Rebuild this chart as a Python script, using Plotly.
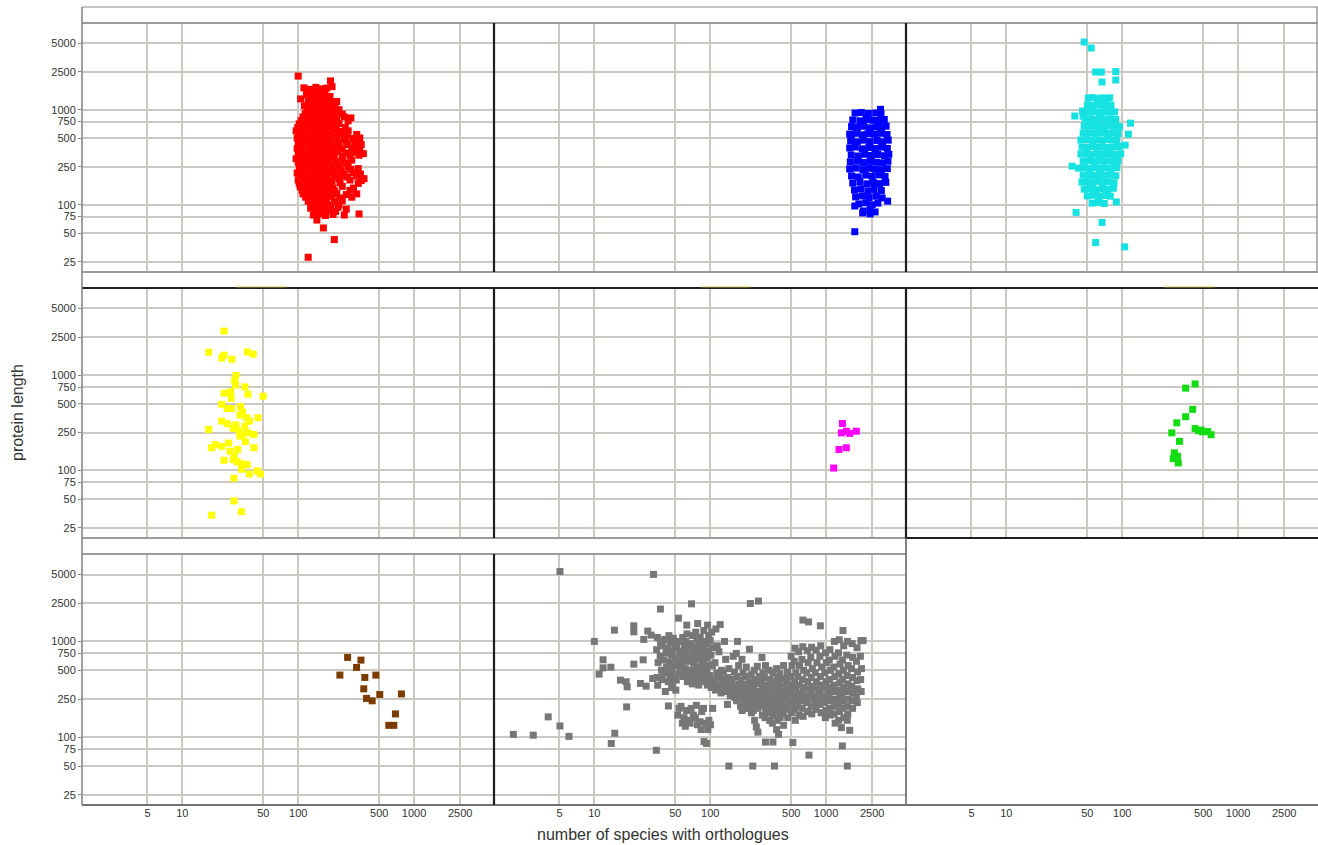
import plotly.graph_objects as go

# ---------------- data ----------------
x_ticks = [5, 10, 50, 100, 500, 1000, 2500]
y_ticks = [25, 50, 75, 100, 250, 500, 750, 1000, 2500, 5000]
x_title = "number of species with orthologues"
y_title = "protein length"

red_pts = [
    (100, 2260), (190, 2010), (112, 1700), (125, 1640), (142, 1720), (158, 1660), (176, 1690), (196, 1750),
    (118, 1560), (133, 1580), (150, 1540), (170, 1570),
    (118, 1430), (131, 1400), (150, 1460), (168, 1420), (188, 1380),
    (128, 1320), (145, 1290), (162, 1330), (182, 1300),
    (105, 1300), (122, 1210), (137, 1180), (155, 1230), (172, 1200), (200, 1190), (215, 1220),
    (113, 1100), (128, 1090), (145, 1110), (163, 1080), (185, 1100), (208, 1090),
    (120, 990), (135, 1010), (150, 970), (175, 1000), (195, 980), (225, 1000),
    (115, 910), (128, 920), (145, 900), (165, 915), (188, 905), (212, 920), (240, 900),
    (110, 840), (124, 830), (140, 850), (158, 820), (180, 845), (205, 830), (250, 840), (285, 820),
    (106, 770), (120, 760), (137, 780), (150, 765), (168, 775), (190, 760), (215, 770), (270, 765),
    (102, 710), (118, 700), (135, 720), (155, 690), (172, 710), (196, 700), (225, 715),
    (99, 650), (113, 655), (130, 645), (148, 660), (166, 650), (188, 655), (213, 645), (255, 650),
    (96, 600), (108, 590), (125, 610), (142, 580), (160, 600), (180, 595), (205, 610), (240, 590), (270, 600),
    (102, 550), (118, 545), (135, 555), (153, 548), (172, 552), (195, 545), (228, 555), (265, 548), (320, 550),
    (98, 505), (112, 500), (128, 510), (145, 495), (165, 505), (185, 500), (215, 510), (250, 495), (300, 500), (340, 505),
    (100, 460), (115, 465), (132, 455), (150, 462), (168, 458), (190, 465), (220, 455), (260, 462), (310, 458),
    (104, 425), (118, 430), (135, 420), (152, 425), (172, 430), (196, 420), (225, 425), (270, 430), (330, 420), (350, 430),
    (98, 390), (108, 385), (124, 395), (140, 388), (158, 392), (178, 386), (205, 394), (240, 388), (290, 392), (340, 388),
    (100, 360), (112, 355), (130, 365), (148, 350), (165, 360), (190, 355), (220, 362), (260, 350), (310, 355), (365, 345),
    (105, 330), (118, 335), (136, 325), (155, 332), (175, 328), (205, 334), (240, 326), (280, 330), (335, 332),
    (96, 305), (110, 300), (122, 310), (140, 295), (158, 305), (178, 300), (200, 308), (240, 300), (290, 295),
    (100, 280), (112, 278), (128, 284), (145, 276), (165, 282), (185, 278), (212, 284), (255, 276),
    (102, 255), (115, 258), (132, 250), (150, 255), (170, 260), (195, 250), (225, 255), (270, 252),
    (104, 235), (118, 238), (136, 232), (155, 240), (175, 234), (200, 238), (235, 232), (285, 236), (330, 240),
    (98, 216), (108, 220), (125, 212), (145, 218), (162, 214), (182, 220), (210, 215), (250, 212), (300, 218), (345, 210),
    (104, 200), (118, 198), (137, 202), (155, 196), (178, 203), (205, 198), (235, 202), (265, 196), (320, 200),
    (100, 182), (114, 185), (130, 180), (150, 178), (172, 184), (195, 180), (225, 186), (280, 182), (350, 180), (370, 188),
    (102, 168), (117, 165), (133, 170), (152, 166), (170, 168), (195, 165), (230, 170), (330, 168),
    (104, 154), (120, 150), (138, 156), (155, 152), (176, 155), (200, 150), (240, 156), (300, 150),
    (108, 142), (124, 140), (140, 144), (160, 141), (180, 143), (205, 140), (280, 142),
    (110, 130), (126, 128), (142, 132), (162, 130), (185, 127), (215, 131), (260, 128), (320, 130),
    (116, 120), (133, 118), (150, 121), (170, 119), (195, 122), (228, 118), (290, 120),
    (122, 109), (138, 110), (155, 107), (175, 111), (205, 108), (240, 110),
    (130, 100), (148, 99), (168, 102), (190, 100), (225, 99),
    (128, 92), (145, 90), (165, 93), (190, 91), (220, 94), (260, 90),
    (140, 85), (158, 84), (180, 86), (210, 85),
    (135, 78), (150, 80), (172, 77), (200, 79), (250, 78), (335, 80),
    (145, 69), (165, 57), (205, 43), (122, 28),
]

blue_pts = [
    (2950, 1010),
    (1780, 923), (2020, 935), (2320, 915), (2680, 925), (2980, 905),
    (1700, 780), (1960, 765), (2220, 790), (2520, 775), (2880, 770), (3180, 790),
    (1660, 665), (1860, 650), (2120, 670), (2400, 645), (2720, 660), (3020, 650), (3300, 672),
    (1600, 555), (1820, 565), (2060, 545), (2300, 560), (2620, 552), (2950, 565), (3360, 548),
    (1630, 470), (1860, 460), (2110, 478), (2400, 462), (2750, 475), (3080, 460), (3440, 478),
    (1600, 396), (1790, 405), (2050, 388), (2340, 400), (2660, 390), (3000, 404), (3380, 392),
    (1650, 334), (1900, 326), (2150, 340), (2460, 330), (2800, 338), (3200, 328), (3480, 340),
    (1620, 282), (1860, 288), (2100, 278), (2400, 286), (2720, 280), (3050, 276), (3420, 287),
    (1600, 238), (1820, 243), (2080, 234), (2350, 242), (2660, 236), (3000, 233), (3380, 240),
    (1660, 201), (1900, 196), (2200, 205), (2500, 199), (2860, 206), (3230, 198),
    (1700, 169), (1960, 174), (2250, 166), (2560, 171), (2900, 167), (3280, 172),
    (1760, 143), (2000, 147), (2300, 140), (2600, 145), (3000, 141),
    (1800, 121), (2060, 124), (2350, 119), (2700, 123), (3050, 118),
    (1920, 102), (2200, 105), (2500, 100), (2800, 104),
    (2100, 86), (2400, 89), (2650, 84),
    (1650, 540), (3400, 109), (1770, 97), (2070, 82), (2400, 80), (1770, 52),
]

cyan_pts = [
    (47, 5160), (54, 4460), (59, 2494), (66, 2490), (88, 2520), (67, 1958), (88, 2055),
    (39, 858), (45.5, 969), (46, 855), (37, 255), (118, 722), (113, 553), (106, 424),
    (89, 107), (40, 83), (67, 65), (59, 40), (105, 36),
    (51, 1328), (56, 1340), (61, 1310), (66, 1330), (72, 1320), (78, 1335),
    (50, 1120), (55, 1110), (62, 1130), (68, 1115), (75, 1125), (80, 1110),
    (52, 946), (58, 950), (64, 940), (70, 955), (78, 945), (86, 950),
    (48, 798), (53, 800), (60, 790), (66, 805), (73, 795), (80, 800), (88, 790),
    (47, 673), (52, 680), (58, 668), (64, 675), (70, 670), (77, 678), (86, 672), (95, 665),
    (46, 568), (51, 572), (57, 565), (63, 570), (69, 575), (76, 566), (84, 570), (92, 562),
    (44, 480), (49, 485), (55, 476), (61, 482), (67, 478), (74, 486), (82, 480), (90, 475),
    (45, 405), (50, 400), (56, 410), (62, 403), (68, 407), (75, 400), (83, 405), (94, 410),
    (44, 342), (49, 345), (54, 338), (60, 344), (66, 340), (73, 346), (80, 341), (88, 338), (97, 345),
    (46, 288), (51, 290), (57, 285), (63, 292), (69, 287), (76, 290), (84, 286), (92, 291),
    (42, 243), (47, 245), (53, 240), (59, 246), (65, 242), (72, 244), (80, 240), (90, 246),
    (46, 205), (52, 207), (58, 203), (64, 208), (71, 204), (79, 206), (88, 202),
    (45, 173), (50, 175), (56, 171), (62, 176), (68, 172), (76, 174), (85, 170),
    (47, 146), (53, 148), (60, 144), (67, 147), (75, 145), (84, 149),
    (50, 124), (56, 126), (63, 122), (71, 125), (79, 123),
    (55, 104), (62, 106), (70, 103),
]

yellow_pts = [
    (22.9, 2893), (16.9, 1738), (21.9, 1513), (22.9, 1616), (26.8, 1465), (36.3, 1750), (40.9, 1655),
    (29.0, 990), (28.3, 871), (28.8, 783), (34.7, 753), (22.9, 646), (26.1, 666), (26.4, 572),
    (36.8, 631), (49.9, 600), (21.9, 494), (24.4, 448), (26.6, 446), (31.8, 467), (31.4, 381),
    (35.9, 357), (45, 357), (21.9, 329), (24.6, 309), (16.9, 269), (27.5, 276), (34.7, 292),
    (31, 258), (37.1, 248), (31.4, 229), (41.5, 238), (41.5, 173), (17.9, 173), (19.2, 187),
    (21.9, 179), (25.1, 194), (25.8, 159), (30, 166), (22.9, 128), (27.5, 130), (29.8, 123),
    (33.1, 117), (36.3, 115), (32.5, 103), (44.3, 99), (47.3, 92), (37.8, 92), (27.9, 83),
    (27.9, 48), (32.3, 37), (17.9, 34), (33, 410), (29, 300), (33, 240), (28, 140), (35, 200), (38, 330),
]

magenta_pts = [
    (1384, 311), (1356, 248), (1497, 258), (1826, 258), (1600, 245), (1293, 166), (1497, 173), (1164, 106),
]

green_pts = [
    (353, 729), (426, 809), (406, 437), (353, 366), (296, 316), (268, 248), (312, 202), (282, 153),
    (276, 133), (305, 120), (300, 141), (426, 275), (455, 262), (492, 254), (547, 256), (585, 237), (480, 265),
]

brown_pts = [
    (267, 681), (348, 638), (319, 535), (229, 445), (376, 421), (468, 445), (368, 320), (389, 254),
    (435, 240), (506, 279), (778, 283), (691, 175), (605, 133), (669, 133),
]

gray_pts = [
    (5.05, 5380), (32.4, 5010), (37.2, 2177), (53.2, 1750), (62.8, 1480), (78, 1540), (21.9, 1455),
    (21.9, 1260), (14.9, 1312), (28.9, 1282), (30.9, 1164), (26.7, 1049), (10, 1000), (37.2, 990),
    (11.9, 643), (26.4, 643), (21.9, 579), (11.9, 530), (13.9, 538), (11, 455), (16.8, 394),
    (18.8, 379), (19.2, 336), (25, 364), (28, 341), (31.9, 410), (35.2, 349), (19, 207), (43.6, 212),
    (4, 163), (5.05, 131), (2, 107), (2.97, 105), (6.04, 102), (15, 110), (14, 86), (34.3, 73),
    (35, 1100), (37.5, 960), (34.5, 820), (37, 700), (35.5, 600), (38, 500), (35, 420),
    (40.5, 1050), (39, 900), (41.5, 760), (39.5, 640), (42, 540), (40, 470), (38.5, 400), (41, 300),
    (44, 1150), (45.5, 980), (43, 850), (46, 720), (44.5, 610), (42.5, 520), (45, 440), (43.5, 380), (46.5, 330),
    (48, 1080), (49.5, 930), (47, 790), (50, 670), (48.5, 560), (46.5, 480), (49, 410), (47.5, 360), (50.5, 310),
    (53, 1000), (51.5, 860), (54.5, 740), (52, 630), (55, 540), (53.5, 460), (51, 395), (54, 200), (52.5, 170),
    (58, 1100), (60, 920), (56.5, 790), (59, 680), (57, 580), (60.5, 500), (58.5, 430), (56, 210), (59.5, 160), (57.5, 140),
    (63, 1200), (61.5, 1000), (65, 860), (62, 730), (64.5, 620), (61, 520), (66, 440), (63.5, 380), (62.5, 190), (65.5, 150), (61, 130),
    (69, 2470), (70.5, 1150), (67.5, 950), (71, 800), (68, 690), (72, 590), (69.5, 500), (67, 420), (70, 360), (68.5, 200), (71.5, 170), (67, 140),
    (75, 1250), (77, 1050), (73.5, 880), (76.5, 750), (74, 640), (78, 540), (75.5, 460), (73, 390), (76, 215), (74.5, 160), (77.5, 135),
    (82, 1100), (80, 920), (84, 780), (81, 660), (85, 560), (80.5, 480), (83, 410), (79.5, 350), (84.5, 185), (81.5, 145), (83.5, 120),
    (88, 1300), (90, 1000), (86.5, 850), (89.5, 720), (87, 620), (91, 520), (86, 440), (89, 380), (87.5, 200), (90.5, 140), (88.5, 90),
    (95, 1480), (97, 1150), (93, 950), (96.5, 800), (94, 680), (98, 570), (93.5, 480), (96, 410), (94.5, 350), (97.5, 150), (95.5, 120), (93, 86),
    (103, 1250), (100, 1020), (106, 860), (101.5, 720), (104.5, 560), (99, 440), (107, 380), (102, 330), (105, 200), (100.5, 135),
    (112, 1350), (115, 900), (110, 600), (114, 470), (109, 400), (116, 350), (111, 310),
    (122, 1500), (119, 780), (125, 500), (121, 420), (127, 360), (118, 320), (124, 290),
    (133, 1000), (136, 650), (130, 480), (135, 400), (131, 340), (137, 300),
    (145, 520), (142, 420), (148, 360), (143, 310), (149, 270), (141, 220), (145, 50),
    (158, 700), (162, 480), (155, 400), (160, 340), (156, 300), (163, 260),
    (172, 1000), (168, 750), (176, 560), (170, 430), (178, 360), (167, 310), (174, 280), (169, 240),
    (188, 650), (192, 470), (184, 390), (190, 330), (186, 290), (194, 250), (183, 210), (189, 190),
    (205, 540), (200, 430), (210, 360), (203, 310), (212, 270), (199, 230), (207, 200),
    (222, 2490), (218, 830), (226, 450), (220, 380), (228, 330), (216, 280), (224, 240), (219, 210), (227, 180),
    (240, 500), (245, 400), (236, 340), (243, 290), (238, 250), (247, 220), (235, 190), (242, 150), (233, 50),
    (261, 2640), (255, 550), (265, 430), (258, 360), (267, 300), (253, 260), (262, 230), (257, 200), (250, 128), (258, 113),
    (280, 680), (285, 470), (276, 390), (284, 330), (278, 280), (287, 240), (274, 210), (282, 170),
    (300, 560), (295, 420), (306, 350), (298, 300), (304, 260), (293, 220), (302, 190), (297, 160), (300, 89),
    (322, 500), (328, 400), (318, 340), (325, 290), (316, 250), (330, 215), (320, 180), (326, 150),
    (348, 470), (342, 380), (354, 320), (345, 270), (352, 230), (340, 200), (350, 170), (344, 140), (348, 89), (359, 50),
    (375, 520), (381, 420), (370, 350), (378, 300), (368, 255), (384, 215), (372, 185), (379, 150), (374, 120),
    (400, 460), (394, 380), (407, 320), (397, 270), (404, 230), (392, 195), (402, 160), (389, 107),
    (430, 560), (437, 410), (424, 340), (433, 290), (422, 245), (440, 205), (427, 175), (430, 133),
    (465, 480), (458, 380), (472, 320), (461, 270), (469, 230), (456, 195), (467, 160),
    (500, 700), (508, 560), (493, 430), (505, 350), (496, 300), (511, 250), (490, 215), (503, 180), (517, 88),
    (540, 850), (532, 620), (548, 470), (536, 380), (545, 320), (529, 270), (550, 230), (538, 195), (543, 150),
    (580, 780), (590, 560), (572, 430), (586, 350), (575, 290), (594, 250), (570, 210), (583, 170),
    (631, 1670), (707, 1600), (893, 1455),
    (630, 880), (620, 650), (640, 500), (626, 400), (637, 330), (618, 280), (642, 240), (624, 200), (633, 165),
    (690, 800), (700, 600), (682, 470), (696, 380), (685, 320), (703, 270), (679, 230), (692, 185), (712, 65),
    (750, 870), (738, 680), (762, 520), (745, 420), (757, 340), (735, 290), (765, 250), (742, 210), (753, 175),
    (820, 810), (835, 600), (808, 470), (828, 380), (813, 320), (840, 270), (805, 230), (822, 195),
    (900, 900), (885, 700), (915, 540), (893, 430), (908, 350), (880, 300), (920, 260), (890, 220), (905, 180),
    (990, 760), (1005, 600), (975, 470), (998, 380), (982, 320), (1012, 270), (970, 230), (995, 190), (985, 160),
    (1080, 820), (1065, 640), (1095, 500), (1072, 400), (1090, 330), (1060, 280), (1100, 240), (1075, 200), (1085, 170),
    (1180, 1000), (1195, 700), (1165, 540), (1190, 430), (1170, 350), (1205, 300), (1160, 250), (1185, 210), (1175, 175), (1198, 140),
    (1300, 1040), (1280, 760), (1320, 580), (1290, 460), (1312, 370), (1275, 310), (1325, 260), (1295, 220), (1305, 185), (1285, 150),
    (1400, 1300), (1420, 900), (1385, 640), (1410, 500), (1390, 400), (1430, 330), (1375, 280), (1415, 240), (1395, 200), (1425, 160), (1356, 126), (1383, 81),
    (1530, 1000), (1510, 720), (1550, 560), (1520, 440), (1545, 360), (1505, 300), (1560, 250), (1515, 210), (1540, 175), (1525, 150), (1600, 118), (1527, 50),
    (1680, 950), (1700, 680), (1660, 520), (1690, 420), (1665, 340), (1710, 290), (1670, 240), (1695, 200),
    (1850, 860), (1830, 620), (1870, 480), (1840, 390), (1880, 320), (1825, 270), (1860, 230),
    (2000, 1020), (1980, 700), (2020, 520), (1990, 400), (2010, 300), (2090, 1020),
]

series = [
    # (row, col, points, colour)
    (0, 0, red_pts, "#ff0000"),
    (0, 1, blue_pts, "#0000ff"),
    (0, 2, cyan_pts, "#16e2e2"),
    (1, 0, yellow_pts, "#ffff00"),
    (1, 1, magenta_pts, "#ff00ff"),
    (1, 2, green_pts, "#12dd12"),
    (2, 0, brown_pts, "#7b3c00"),
    (2, 1, gray_pts, "#777777"),
    (2, 2, [], "#777777"),
]

# ---------------- layout geometry (pixels) ----------------
W, H = 1318, 845
col_px = [(82, 494), (494, 906), (906, 1318)]
row_px = [(23, 272), (288, 538), (554, 805)]
XR = [0.134, 3.690]
YR = [1.292, 3.913]
GRID = "#cbc9c2"
FONT = "Liberation Sans"

def fx(p):
    return p / W

def fy(p):
    return 1 - p / H

fig = go.Figure()
layout = dict(
    width=W, height=H,
    margin=dict(l=0, r=0, t=0, b=0),
    paper_bgcolor="white", plot_bgcolor="white",
    showlegend=False,
    font=dict(family=FONT, size=11, color="#333333"),
)

for r, c, pts, colour in series:
    idx = r * 3 + c + 1
    sfx = "" if idx == 1 else str(idx)
    xs = [p[0] for p in pts]
    ys = [p[1] for p in pts]
    fig.add_trace(go.Scatter(
        x=xs, y=ys, mode="markers",
        marker=dict(symbol="square", size=7, color=colour, line=dict(width=0)),
        xaxis="x" + sfx, yaxis="y" + sfx, hoverinfo="skip",
    ))
    empty = (r == 2 and c == 2)
    x0, x1 = col_px[c]
    y0, y1 = row_px[r]
    layout["xaxis" + sfx] = dict(
        type="log", range=XR, domain=[fx(x0), fx(x1)], anchor="y" + sfx,
        tickvals=x_ticks, ticktext=[str(v) for v in x_ticks],
        showticklabels=(r == 2), showgrid=not empty, gridcolor=GRID, gridwidth=1.6,
        zeroline=False, showline=False, ticks="",
        tickfont=dict(family=FONT, size=11, color="#333333"),
        fixedrange=True,
    )
    layout["yaxis" + sfx] = dict(
        type="log", range=YR, domain=[fy(y1), fy(y0)], anchor="x" + sfx,
        tickvals=y_ticks, ticktext=[str(v) for v in y_ticks],
        showticklabels=(c == 0), showgrid=not empty, gridcolor=GRID, gridwidth=1.6,
        zeroline=False, showline=False,
        ticks="outside" if c == 0 else "", ticklen=3, tickcolor="#888888",
        tickfont=dict(family=FONT, size=11, color="#333333"),
        fixedrange=True,
    )

GRAY = "#9a9a9a"
DARK = "#1e1e1e"
lines = [
    # (x0, y0, x1, y1, colour, width)
    (82, 7, 1318, 7, "#b0b0b0", 1.5),
    (82, 23, 1318, 23, GRAY, 1.8),
    (82, 272, 1318, 272, GRAY, 1.8),
    (82, 288, 1318, 288, DARK, 2.2),
    (82, 538, 906, 538, GRAY, 1.8),
    (906, 538, 1318, 538, DARK, 2.0),
    (82, 554, 906, 554, GRAY, 1.8),
    (82, 805, 1318, 805, "#444444", 1.6),
    (82, 7, 82, 805, "#888888", 1.6),
    (494, 23, 494, 272, DARK, 2.2),
    (494, 288, 494, 538, DARK, 2.2),
    (494, 554, 494, 805, DARK, 2.2),
    (906, 23, 906, 272, DARK, 2.2),
    (906, 288, 906, 538, DARK, 2.2),
    (906, 538, 906, 805, "#666666", 1.6),
    (1317, 7, 1317, 272, GRAY, 1.5),
    (236, 286.5, 287, 286.5, "#eeee99", 1.5),
    (701, 286.5, 751, 286.5, "#eeee99", 1.5),
    (1164, 286.5, 1215, 286.5, "#eeee99", 1.5),
]
shapes = []
for x0, y0, x1, y1, colour, w in lines:
    shapes.append(dict(type="line", xref="paper", yref="paper",
                       x0=fx(x0), y0=fy(y0), x1=fx(x1), y1=fy(y1),
                       line=dict(color=colour, width=w), layer="above"))
layout["shapes"] = shapes

layout["annotations"] = [
    dict(text=y_title, xref="paper", yref="paper", x=fx(18), y=fy(413),
         showarrow=False, textangle=-90, xanchor="center", yanchor="middle",
         font=dict(family=FONT, size=16, color="#333333")),
    dict(text=x_title, xref="paper", yref="paper", x=fx(663), y=fy(834),
         showarrow=False, xanchor="center", yanchor="middle",
         font=dict(family=FONT, size=16, color="#333333")),
]

fig.update_layout(**layout)
fig.write_html(
    "out.html",
    config={"displayModeBar": False},
    post_script="document.body.style.margin='0';document.body.style.overflow='hidden';",
)
